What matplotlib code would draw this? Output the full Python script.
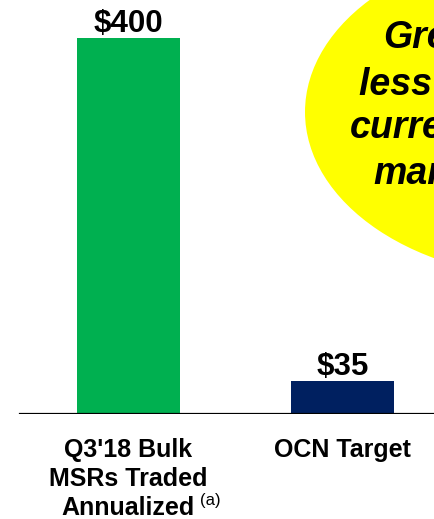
import matplotlib
matplotlib.use('Agg')
import matplotlib.pyplot as plt
from matplotlib.patches import Ellipse

plt.rcParams['font.family'] = ['Liberation Sans', 'DejaVu Sans']

# data
categories = ["Q3'18 Bulk\nMSRs Traded\nAnnualized", "OCN Target"]
values = [400, 35]
value_labels = ['$400', '$35']
bar_colors = ['#00B050', '#002060']
bubble_lines = ['Greater', 'less than', 'current', 'market']
bubble_x = [383, 359, 350, 373]      # left edge of each line, px
bubble_y = [48, 95, 138, 184]        # baseline of each line, px

W, H = 434, 519
fig = plt.figure(figsize=(W / 100, H / 100), dpi=100)
base_px = 414
ax = fig.add_axes([0, (H - base_px) / H, 1, base_px / H])
ax.set_ylim(0, base_px / 0.94)
ax.set_xlim(-128.5 / 214, (W - 128.5) / 214)

x = [0, 1]
bars = ax.bar(x, values, width=0.477, color=bar_colors)
for xi, v, lab in zip(x, values, value_labels):
    ax.annotate(lab, (xi, v), xytext=(0, 4.5), textcoords='offset points',
                ha='center', va='baseline', fontsize=22.5, fontweight='bold')

for s in ax.spines.values():
    s.set_visible(False)
ax.axhline(0, xmin=20 / W, xmax=1, color='black', lw=1.6, zorder=3)
ax.set_yticks([])
ax.set_xticks(x, categories, fontsize=18, fontweight='bold', linespacing=1.27)
ax.tick_params(axis='x', length=0, pad=17)

fig.text(200 / W, 1 - 505 / H, '(a)', fontsize=12, va='baseline', ha='left')

# yellow callout bubble
ell = Ellipse((555 / W, 1 - 112 / H), 500 / W, 334 / H, transform=fig.transFigure,
              facecolor='#FFFF00', edgecolor='none', zorder=1)
fig.patches.append(ell)
for txt, bx, by in zip(bubble_lines, bubble_x, bubble_y):
    fig.text(bx / W, 1 - by / H, txt, fontsize=27, fontweight='bold',
             fontstyle='italic', ha='left', va='baseline', zorder=2)

fig.savefig('out.png', dpi=100)
